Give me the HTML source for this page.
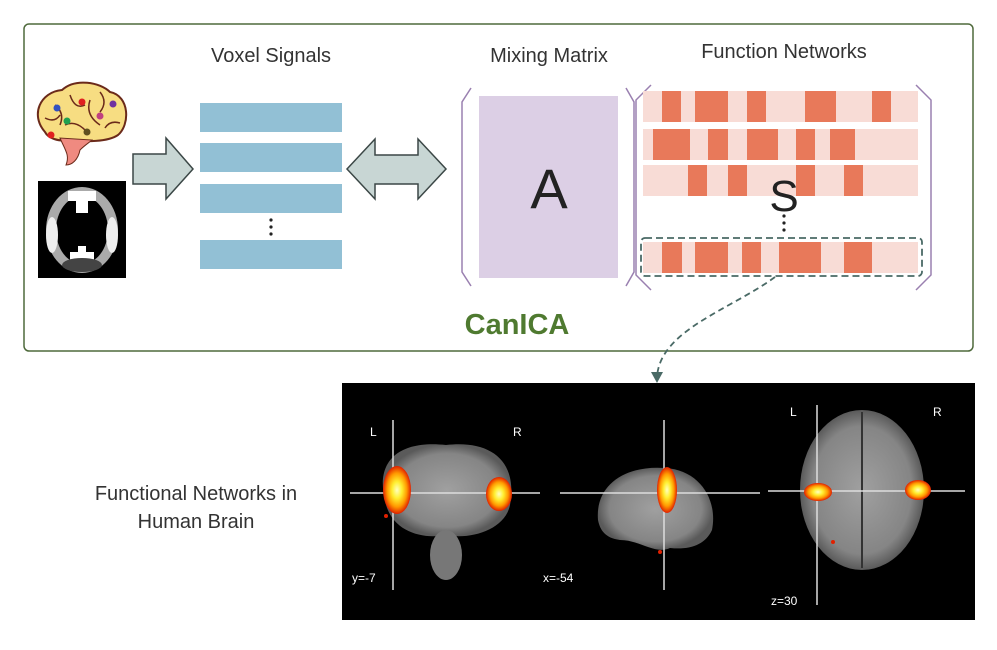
<!DOCTYPE html>
<html><head><style>
body{margin:0;background:#fff;width:997px;height:645px;overflow:hidden;font-family:"Liberation Sans","DejaVu Sans",sans-serif}
</style></head><body>
<svg width="997" height="645" viewBox="0 0 997 645" xmlns="http://www.w3.org/2000/svg">
<defs>
<radialGradient id="hot"><stop offset="0" stop-color="#ffffc0"/><stop offset="0.35" stop-color="#ffee30"/><stop offset="0.7" stop-color="#ff9a00"/><stop offset="1" stop-color="#e02000"/></radialGradient>
<radialGradient id="brain"><stop offset="0" stop-color="#a0a0a0"/><stop offset="0.8" stop-color="#858585"/><stop offset="1" stop-color="#5a5a5a"/></radialGradient>
</defs>
<rect x="24" y="24" width="949" height="327" rx="5" fill="#fff" stroke="#4f6a3c" stroke-width="1.5"/>
<g font-size="20" fill="#333" text-anchor="middle">
<text x="271" y="62">Voxel Signals</text>
<text x="549" y="62">Mixing Matrix</text>
<text x="784" y="58">Function Networks</text>
</g>
<!-- brain icon -->
<path d="M45 132 C30 115 40 92 62 90 C75 78 100 82 110 92 C130 96 130 125 118 135 C108 142 85 142 70 140 C58 142 48 138 45 132Z" fill="#f7dd82" stroke="#6b2a1a" stroke-width="2"/>
<path d="M60 138 C65 150 70 155 66 165 C72 165 78 160 80 150 C85 145 90 142 92 140Z" fill="#ef8a80" stroke="#6b2a1a" stroke-width="1"/>
<path d="M55 105 q10 8 5 20 M70 95 q5 15 15 10 M90 100 q-5 15 10 25 M100 92 q8 10 0 20 M65 125 q10 -5 20 5 M45 118 q10 5 15 -3 M105 128 q5 -8 15 -5" fill="none" stroke="#6b2a1a" stroke-width="1.5"/>
<circle cx="57" cy="108" r="3.5" fill="#3050c0"/><circle cx="82" cy="102" r="3.5" fill="#e02020"/><circle cx="113" cy="104" r="3.5" fill="#7030a0"/><circle cx="67" cy="121" r="3.5" fill="#20a050"/><circle cx="100" cy="116" r="3.5" fill="#c04080"/><circle cx="51" cy="135" r="3.5" fill="#e02020"/><circle cx="87" cy="132" r="3.5" fill="#605020"/>
<!-- MRI slice -->
<rect x="38" y="181" width="88" height="97" fill="#000"/>
<ellipse cx="82" cy="230" rx="36" ry="43" fill="#aaa"/>
<ellipse cx="82" cy="230" rx="26" ry="34" fill="#000"/>
<path d="M68 191 h28 v10 h-8 v12 h-12 v-12 h-8z" fill="#fff"/>
<path d="M70 262 h24 v-10 h-8 v-6 h-8 v6 h-8z" fill="#fff"/>
<ellipse cx="52" cy="235" rx="6" ry="18" fill="#eee"/><ellipse cx="112" cy="235" rx="6" ry="18" fill="#eee"/>
<ellipse cx="82" cy="265" rx="20" ry="7" fill="#444"/>
<!-- arrow right -->
<polygon points="133,154 166,154 166,138 193,169 166,199 166,184 133,184" fill="#c8d6d4" stroke="#3b4746" stroke-width="1.5"/>
<!-- voxel bars -->
<g fill="#92c0d5">
<rect x="200" y="103" width="142" height="29"/><rect x="200" y="143" width="142" height="29"/><rect x="200" y="184" width="142" height="29"/><rect x="200" y="240" width="142" height="29"/>
</g>
<g fill="#222"><circle cx="271" cy="220" r="1.6"/><circle cx="271" cy="227" r="1.6"/><circle cx="271" cy="234" r="1.6"/></g>
<!-- double arrow -->
<polygon points="347,169 375,139 375,155 418,155 418,139 446,169 418,199 418,184 375,184 375,199" fill="#c8d6d4" stroke="#3b4746" stroke-width="1.5"/>
<!-- brackets -->
<path d="M471 88 L462 102 L462 272 L471 286" fill="none" stroke="#9a80b0" stroke-width="1.5"/>
<path d="M626 88 L634 102 L634 272 L626 286" fill="none" stroke="#9a80b0" stroke-width="1.5"/>
<path d="M651 85 L636 100 L636 275 L651 290" fill="none" stroke="#9a80b0" stroke-width="1.5"/>
<path d="M916 85 L931 100 L931 275 L916 290" fill="none" stroke="#9a80b0" stroke-width="1.5"/>
<rect x="479" y="96" width="139" height="182" fill="#dccfe5"/>
<text x="549" y="208" font-size="56" text-anchor="middle" fill="#222">A</text>
<!-- S rows -->
<g fill="#f8dcd6">
<rect x="643" y="91" width="275" height="31"/><rect x="643" y="129" width="275" height="31"/><rect x="643" y="165" width="275" height="31"/><rect x="643" y="242" width="275" height="31"/>
</g>
<g fill="#e8795a">
<rect x="662" y="91" width="19" height="31"/><rect x="695" y="91" width="33" height="31"/><rect x="747" y="91" width="19" height="31"/><rect x="805" y="91" width="31" height="31"/><rect x="872" y="91" width="19" height="31"/>
<rect x="653" y="129" width="37" height="31"/><rect x="708" y="129" width="20" height="31"/><rect x="747" y="129" width="31" height="31"/><rect x="796" y="129" width="19" height="31"/><rect x="830" y="129" width="25" height="31"/>
<rect x="688" y="165" width="19" height="31"/><rect x="728" y="165" width="19" height="31"/><rect x="796" y="165" width="19" height="31"/><rect x="844" y="165" width="19" height="31"/>
<rect x="662" y="242" width="20" height="31"/><rect x="695" y="242" width="33" height="31"/><rect x="742" y="242" width="19" height="31"/><rect x="779" y="242" width="42" height="31"/><rect x="844" y="242" width="28" height="31"/>
</g>
<text x="784" y="211" font-size="44" text-anchor="middle" fill="#222">S</text>
<g fill="#222"><circle cx="784" cy="216" r="1.6"/><circle cx="784" cy="223" r="1.6"/><circle cx="784" cy="230" r="1.6"/></g>
<rect x="641" y="238" width="281" height="38" rx="4" fill="none" stroke="#4a6a66" stroke-width="1.8" stroke-dasharray="7,4"/>
<path d="M775 277 C730 310 660 330 657 377" fill="none" stroke="#4a6a66" stroke-width="1.8" stroke-dasharray="6,4"/>
<polygon points="651,372 663,372 657,383" fill="#4a6a66"/>
<text x="517" y="334" font-size="29" font-weight="bold" text-anchor="middle" fill="#4f7a30">CanICA</text>
<!-- bottom label -->
<text x="196" y="500" font-size="20" text-anchor="middle" fill="#333">Functional Networks in</text>
<text x="196" y="528" font-size="20" text-anchor="middle" fill="#333">Human Brain</text>
<!-- brain panel -->
<rect x="342" y="383" width="633" height="237" fill="#000"/>
<path d="M385 500 C375 460 400 440 446 445 C490 440 518 460 510 505 C505 530 470 540 446 535 C420 540 390 530 385 500Z" fill="url(#brain)"/>
<ellipse cx="446" cy="555" rx="16" ry="25" fill="#777"/>
<path d="M598 520 C595 485 625 465 665 468 C700 470 718 500 712 530 C705 545 690 550 670 548 C655 555 640 540 620 540 C605 538 600 530 598 520Z" fill="url(#brain)"/>
<ellipse cx="862" cy="490" rx="62" ry="80" fill="url(#brain)"/>
<line x1="862" y1="412" x2="862" y2="568" stroke="#333" stroke-width="2"/>
<g stroke="#ddd" stroke-width="1.5">
<line x1="393" y1="420" x2="393" y2="590"/><line x1="350" y1="493" x2="540" y2="493"/>
<line x1="664" y1="420" x2="664" y2="590"/><line x1="560" y1="493" x2="760" y2="493"/>
<line x1="817" y1="405" x2="817" y2="605"/><line x1="768" y1="491" x2="965" y2="491"/>
</g>
<ellipse cx="397" cy="490" rx="14" ry="24" fill="url(#hot)"/>
<ellipse cx="499" cy="494" rx="13" ry="17" fill="url(#hot)"/>
<ellipse cx="667" cy="490" rx="10" ry="23" fill="url(#hot)"/>
<ellipse cx="818" cy="492" rx="14" ry="9" fill="url(#hot)"/>
<ellipse cx="918" cy="490" rx="13" ry="10" fill="url(#hot)"/>
<circle cx="386" cy="516" r="2" fill="#e02000"/><circle cx="660" cy="552" r="2" fill="#e02000"/><circle cx="833" cy="542" r="2" fill="#e02000"/>
<g fill="#fff" font-size="12"><text x="370" y="436">L</text><text x="513" y="436">R</text><text x="790" y="416">L</text><text x="933" y="416">R</text>
<text x="352" y="582">y=-7</text><text x="543" y="582">x=-54</text><text x="771" y="605">z=30</text></g>
</svg>
</body></html>
